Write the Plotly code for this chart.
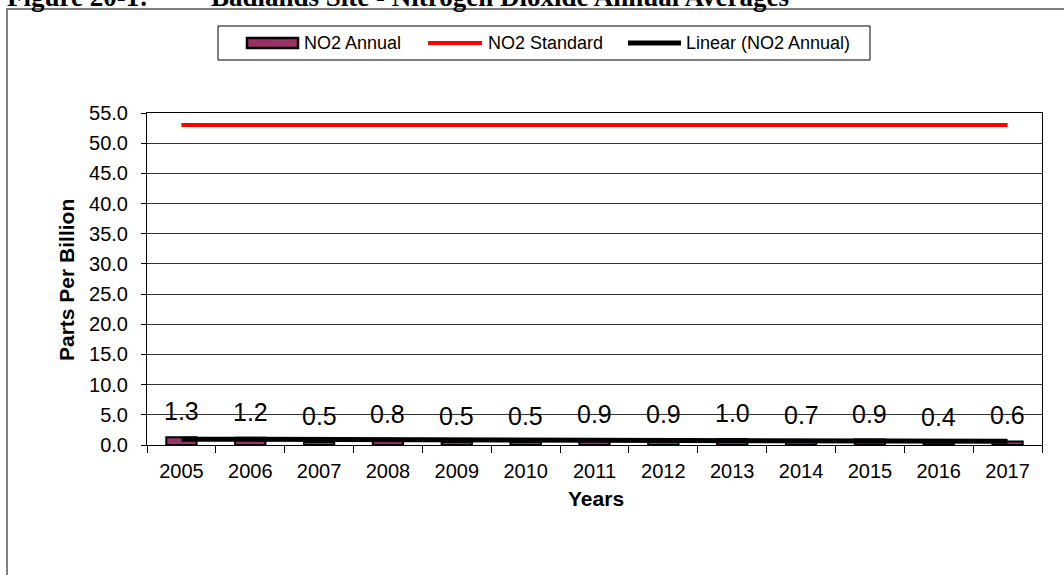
import numpy as np
import plotly.graph_objects as go

# ---- data ----
years = ["2005", "2006", "2007", "2008", "2009", "2010", "2011",
         "2012", "2013", "2014", "2015", "2016", "2017"]
no2_annual = [1.3, 1.2, 0.5, 0.8, 0.5, 0.5, 0.9, 0.9, 1.0, 0.7, 0.9, 0.4, 0.6]
no2_standard = [53] * len(years)
y_ticks = [0, 5, 10, 15, 20, 25, 30, 35, 40, 45, 50, 55]

# linear trendline (least squares on the annual values)
idx = np.arange(len(no2_annual))
slope, intercept = np.polyfit(idx, no2_annual, 1)
trend = list(intercept + slope * idx)

# ---- layout geometry (pixels) ----
W, H = 1064, 575
L, R, T, B = 147, 1042, 113, 445
PW, PH = R - L, B - T


def px(x):
    return (x - L) / PW


def py(y):
    return (B - y) / PH


BAR_COLOR = "#993366"
FONT = "Liberation Sans, Arial, sans-serif"
SERIF = "Liberation Serif, Times New Roman, serif"

fig = go.Figure()
fig.add_trace(go.Bar(
    x=years, y=no2_annual, name="NO2 Annual",
    marker=dict(color=BAR_COLOR, line=dict(color="black", width=2)),
    width=0.44,
))
fig.add_trace(go.Scatter(
    x=years, y=no2_standard, name="NO2 Standard", mode="lines",
    line=dict(color="#FF0000", width=4),
))
fig.add_trace(go.Scatter(
    x=years, y=trend, name="Linear (NO2 Annual)", mode="lines",
    line=dict(color="black", width=5),
))

annotations = []
# data labels
for i, v in enumerate(no2_annual):
    annotations.append(dict(
        x=i, y=v, xref="x", yref="y", text=f"{v:.1f}", showarrow=False,
        yanchor="bottom", yshift=10,
        font=dict(family=FONT, size=25, color="black"),
    ))

# axis titles
annotations.append(dict(
    x=px(596), y=py(498), xref="paper", yref="paper", text="<b>Years</b>",
    showarrow=False, xanchor="center", yanchor="middle",
    font=dict(family=FONT, size=21, color="black"),
))
annotations.append(dict(
    x=px(66), y=py(280), xref="paper", yref="paper", text="<b>Parts Per Billion</b>",
    showarrow=False, xanchor="center", yanchor="middle", textangle=-90,
    font=dict(family=FONT, size=21, color="black"),
))

# figure title (clipped at the top edge as in the original)
annotations.append(dict(
    x=px(5), y=py(14), xref="paper", yref="paper",
    text="<b>Figure 20-1:</b>",
    showarrow=False, xanchor="left", yanchor="bottom",
    font=dict(family=SERIF, size=27, color="black"),
))
annotations.append(dict(
    x=px(209), y=py(14), xref="paper", yref="paper",
    text="<b>Badlands Site - Nitrogen Dioxide Annual Averages</b>",
    showarrow=False, xanchor="left", yanchor="bottom",
    font=dict(family=SERIF, size=27, color="black"),
))

# manual legend
leg_font = dict(family=FONT, size=18, color="black")
leg_y = 43
for text, x in [("NO2 Annual", 302), ("NO2 Standard", 486), ("Linear (NO2 Annual)", 684)]:
    annotations.append(dict(
        x=px(x), y=py(leg_y), xref="paper", yref="paper", text=text,
        showarrow=False, xanchor="left", yanchor="middle", font=leg_font,
    ))

shapes = [
    # outer chart border
    dict(type="rect", xref="paper", yref="paper", x0=px(7), x1=px(1120), y0=py(640), y1=py(9),
         line=dict(color="#808080", width=2), fillcolor="rgba(0,0,0,0)", layer="below"),
    # legend box
    dict(type="rect", xref="paper", yref="paper", x0=px(218), x1=px(870), y0=py(60), y1=py(26),
         line=dict(color="black", width=1), fillcolor="white"),
    # legend swatches
    dict(type="rect", xref="paper", yref="paper", x0=px(247), x1=px(298), y0=py(48), y1=py(38),
         line=dict(color="black", width=2.5), fillcolor=BAR_COLOR),
    dict(type="line", xref="paper", yref="paper", x0=px(428), x1=px(482), y0=py(leg_y), y1=py(leg_y),
         line=dict(color="#FF0000", width=4)),
    dict(type="line", xref="paper", yref="paper", x0=px(628), x1=px(681), y0=py(leg_y), y1=py(leg_y),
         line=dict(color="black", width=5)),
]

fig.update_layout(
    width=W, height=H,
    margin=dict(l=L, r=W - R, t=T, b=H - B, pad=0),
    paper_bgcolor="white", plot_bgcolor="white",
    showlegend=False,
    bargap=0.56,
    font=dict(family=FONT, color="black"),
    annotations=annotations,
    shapes=shapes,
    xaxis=dict(
        type="category", tickson="boundaries", ticks="outside", ticklen=7,
        tickcolor="black", tickwidth=1,
        showline=True, linecolor="black", linewidth=1, mirror=True,
        showgrid=False, tickfont=dict(size=20, family=FONT, color="black"),
        range=[-0.5, len(years) - 0.5], ticklabelstandoff=8,
    ),
    yaxis=dict(
        range=[0, 55], tickvals=y_ticks, tickformat=".1f",
        ticks="outside", ticklen=5, tickcolor="black", tickwidth=1,
        showline=True, linecolor="black", linewidth=1, mirror=True,
        showgrid=True, gridcolor="#333333", gridwidth=1,
        zeroline=False, ticklabelstandoff=9,
        tickfont=dict(size=20, family=FONT, color="black"),
    ),
)

fig.write_html("out.html", config={"displayModeBar": False},
               post_script="document.body.style.margin='0';")
